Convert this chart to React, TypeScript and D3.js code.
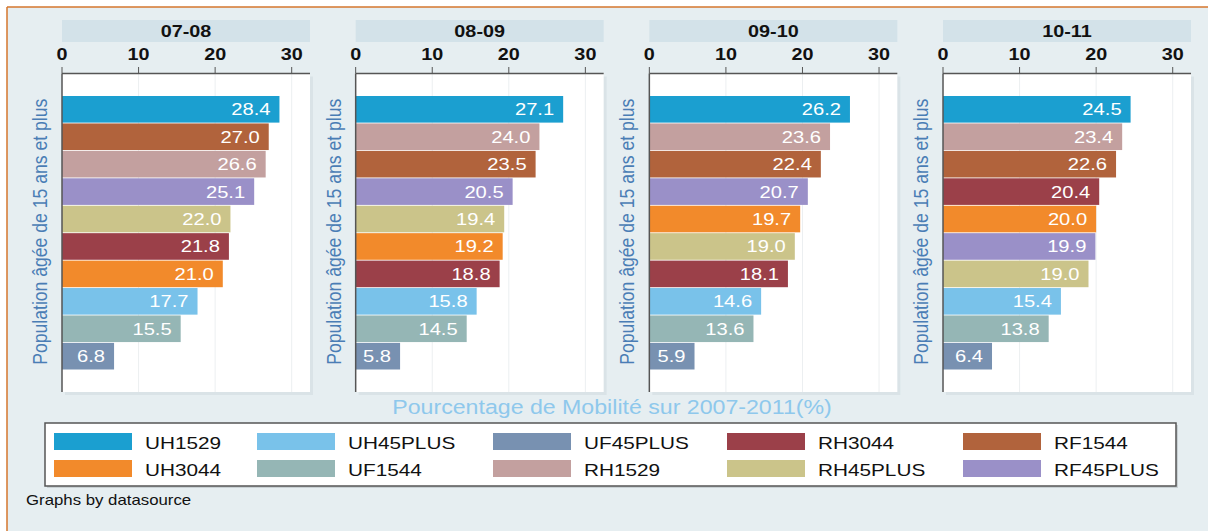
import React from "react";
import * as d3 from "d3";

// ---- data ----
const series = ["UH1529", "UH3044", "UH45PLUS", "UF1544", "UF45PLUS", "RH1529", "RH3044", "RH45PLUS", "RF1544", "RF45PLUS"];
const seriesColors = ["#1b9fd0", "#f28a2b", "#79c2ea", "#95b6b5", "#7891b1", "#c3a09f", "#9b4049", "#cbc48a", "#b1633c", "#9a90c8"];
const periods = ["07-08", "08-09", "09-10", "10-11"];
const values0708 = [28.4, 21.0, 17.7, 15.5, 6.8, 26.6, 21.8, 22.0, 27.0, 25.1];
const values0809 = [27.1, 19.2, 15.8, 14.5, 5.8, 24.0, 18.8, 19.4, 23.5, 20.5];
const values0910 = [26.2, 19.7, 14.6, 13.6, 5.9, 23.6, 18.1, 19.0, 22.4, 20.7];
const values1011 = [24.5, 20.0, 15.4, 13.8, 6.4, 23.4, 20.4, 19.0, 22.6, 19.9];
const periodValues = [values0708, values0809, values0910, values1011];
const xTicks = [0, 10, 20, 30];
const yTitle = "Population âgée de 15 ans et plus";
const xTitle = "Pourcentage de Mobilité sur 2007-2011(%)";
const note = "Graphs by datasource";

// ---- layout ----
const W = 1208, H = 531;
const FONT = "'Liberation Sans', Arial, Helvetica, sans-serif";
const SX = 1.2; // horizontal stretch of the reference's text
const panelX0 = 62;
const panelStep = 293.67;
const plotW = 248;
const axisY = 73.5;
const plotBottom = 392;
const legendColX = [54, 257, 493, 727, 963];

function T(props: any) {
  const { x, y, sx = SX, rotate, anchor = "start", size, weight = "normal", fill = "#000", children } = props;
  return (
    <text
      transform={`translate(${x},${y}) scale(${sx},1)${rotate ? ` rotate(${rotate})` : ""}`}
      textAnchor={anchor}
      fontSize={size}
      fontWeight={weight}
      fill={fill}
      fontFamily={FONT}
    >
      {children}
    </text>
  );
}

export default function App() {
  const x = d3.scaleLinear().domain([0, 30]).range([0, 229.7]);
  const y = d3.scaleBand<number>().domain(d3.range(series.length)).range([96, 369.5]).paddingInner(0.03);

  return (
    <svg width={W} height={H} style={{ position: "absolute", left: 0, top: 0, display: "block" }}>
      <rect x={0} y={0} width={W} height={H} fill="#ffffff" />
      <rect x={7} y={7} width={W - 7} height={H - 7} fill="#e6eef1" />
      <line x1={7} y1={7} x2={W} y2={7} stroke="#d5762c" strokeWidth={1.5} />
      <line x1={7} y1={7} x2={7} y2={H} stroke="#d5762c" strokeWidth={1.5} />

      {periods.map((p, pi) => {
        const x0 = panelX0 + pi * panelStep;
        const vals = periodValues[pi];
        const order = d3.range(series.length).sort((a, b) => vals[b] - vals[a]);
        return (
          <g key={p}>
            {/* header strip */}
            <rect x={x0} y={20} width={plotW} height={22} fill="#d3e2e9" />
            <T x={x0 + plotW / 2} y={37} anchor="middle" size={16.5} weight="bold" fill="#111">{p}</T>
            {/* plot background */}
            <rect x={x0 + 3} y={axisY + 3} width={plotW} height={plotBottom - axisY} fill="#dae3e7" />
            <rect x={x0} y={axisY} width={plotW} height={plotBottom - axisY} fill="#ffffff" />
            {/* grid */}
            {xTicks.filter((t) => t > 0).map((t) => (
              <line key={t} x1={x0 + x(t)} x2={x0 + x(t)} y1={axisY} y2={plotBottom} stroke="#eceff1" strokeWidth={1} />
            ))}
            {/* bars */}
            {order.map((si, rank) => {
              const v = vals[si];
              const by = y(rank)!;
              const bh = y.bandwidth();
              return (
                <g key={si}>
                  <rect x={x0} y={by} width={x(v)} height={bh} fill={seriesColors[si]} />
                  <T x={x0 + x(v) - 9} y={by + bh / 2 + 6} anchor="end" size={16.8} fill="#ffffff">
                    {v.toFixed(1)}
                  </T>
                </g>
              );
            })}
            {/* axes */}
            <line x1={x0} x2={x0 + plotW} y1={axisY} y2={axisY} stroke="#555" strokeWidth={1.5} />
            <line x1={x0} x2={x0} y1={axisY} y2={plotBottom} stroke="#555" strokeWidth={1.5} />
            {xTicks.map((t) => (
              <g key={t}>
                <line x1={x0 + x(t)} x2={x0 + x(t)} y1={67} y2={axisY} stroke="#555" strokeWidth={1} />
                <T x={x0 + x(t)} y={60} anchor="middle" size={16.5} weight="bold" fill="#111">{t}</T>
              </g>
            ))}
            {/* y title */}
            <T x={x0 - 15} y={(axisY + plotBottom) / 2 - 1} rotate={-90} anchor="middle" size={17.6} fill="#4a7db5">
              {yTitle}
            </T>
          </g>
        );
      })}

      {/* x title */}
      <T x={612} y={414} anchor="middle" size={19.3} fill="#8ec8ec">{xTitle}</T>

      {/* legend */}
      <rect x={47} y={425} width={1131} height={63} fill="#c9d1d4" />
      <rect x={45} y={423} width={1131} height={63} fill="#ffffff" stroke="#555" strokeWidth={1.5} />
      {series.map((s, i) => {
        const col = Math.floor(i / 2);
        const row = i % 2;
        const sx = legendColX[col];
        const sy = 433 + row * 27;
        return (
          <g key={s}>
            <rect x={sx} y={sy} width={78} height={17} fill={seriesColors[i]} />
            <T x={sx + 91} y={sy + 16} size={17.3} fill="#111">{s}</T>
          </g>
        );
      })}

      <T x={26} y={505} size={14} fill="#111">{note}</T>
    </svg>
  );
}
